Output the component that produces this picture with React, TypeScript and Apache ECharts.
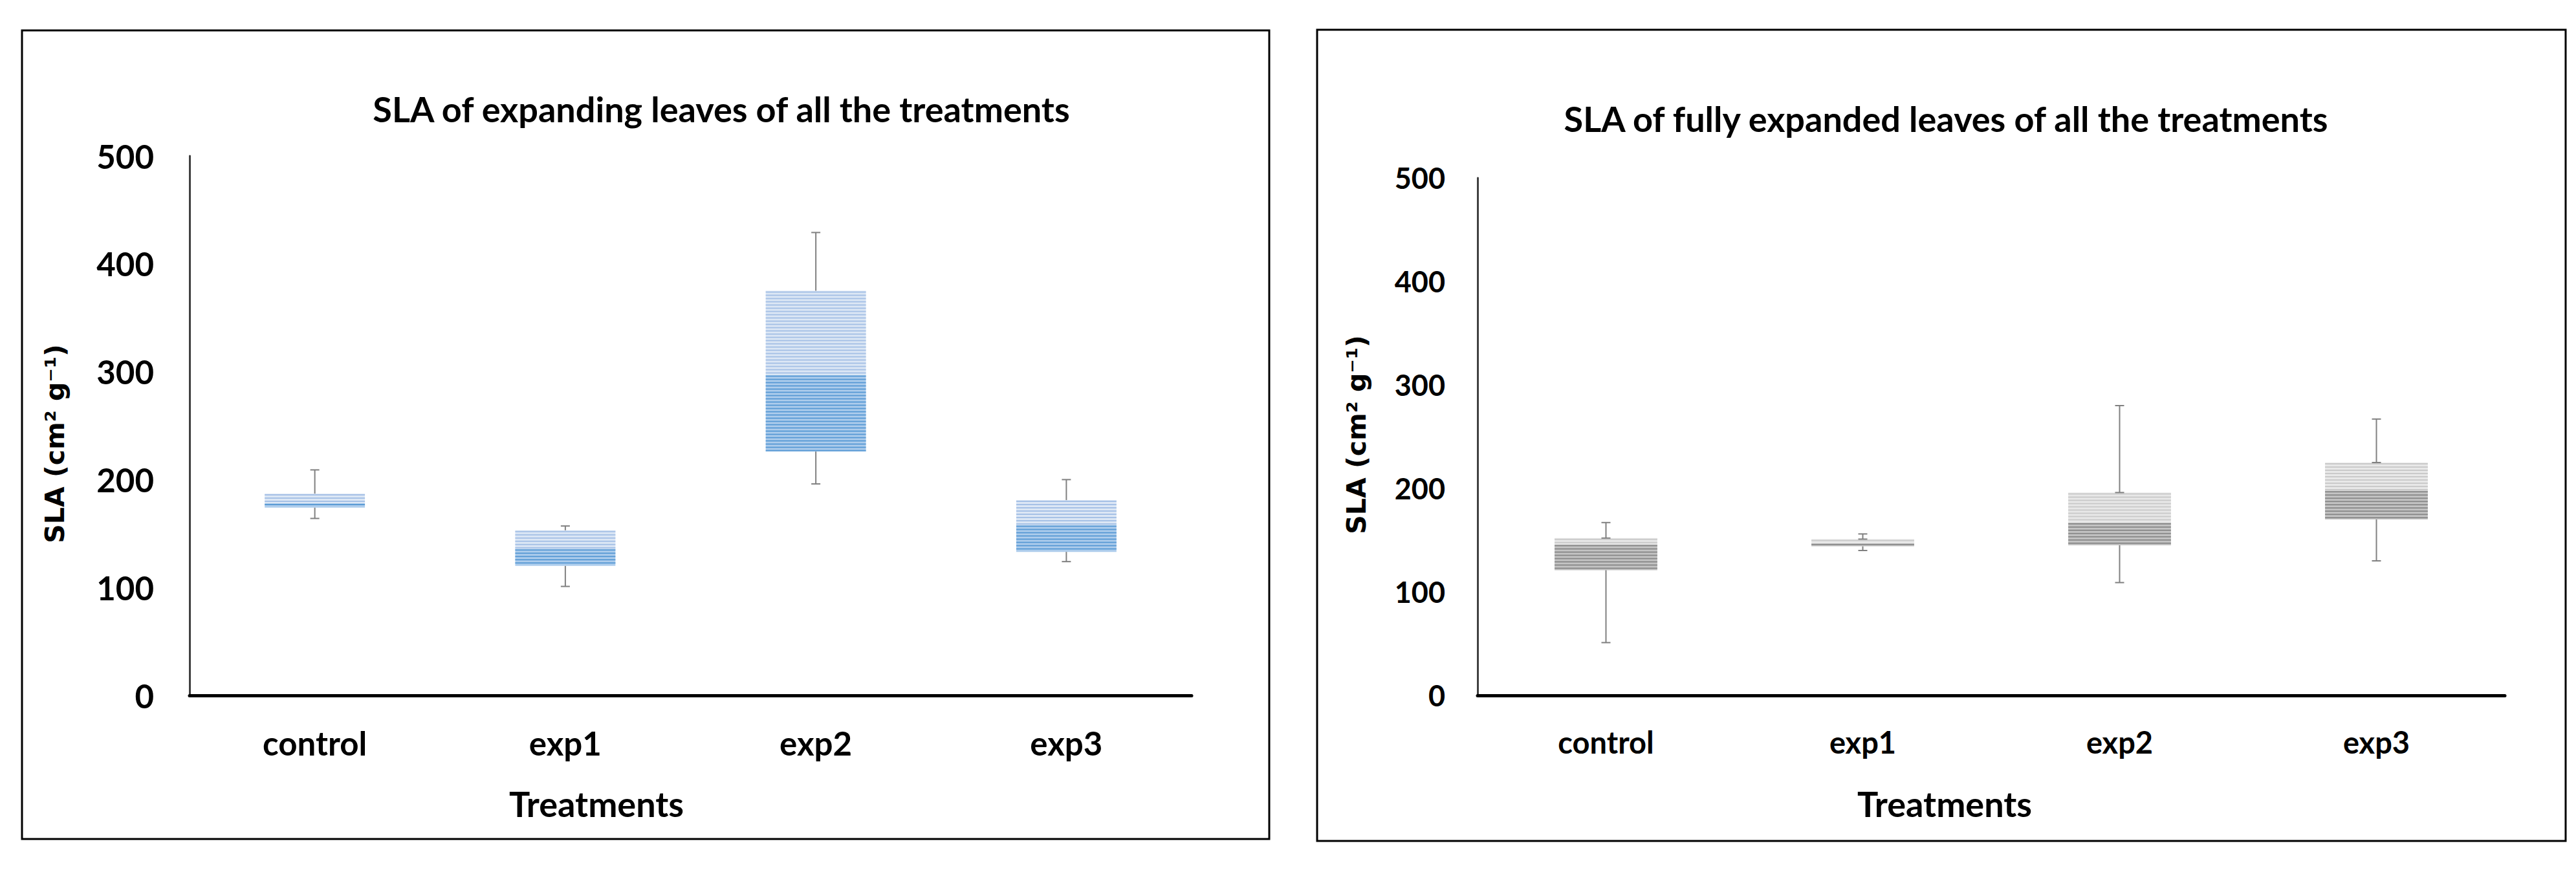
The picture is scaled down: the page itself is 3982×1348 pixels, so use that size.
import React, { useEffect, useRef } from "react";
import * as echarts from "echarts";

const categories = ["control", "exp1", "exp2", "exp3"];

// SLA of expanding leaves
const expMin = [164, 101, 196, 124];
const expQ1 = [174, 120, 226, 133];
const expMedian = [178, 136, 297, 158];
const expQ3 = [187, 153, 375, 181];
const expMax = [209, 157, 429, 200];

// SLA of fully expanded leaves
const fullMin = [51, 140, 109, 130];
const fullQ1 = [121, 144, 145, 170];
const fullMedian = [146, 147, 167, 198];
const fullQ3 = [152, 151, 196, 225];
const fullMax = [167, 156, 280, 267];

const yTicks = [0, 100, 200, 300, 400, 500];

const titleLeft = "SLA of expanding leaves of all the treatments";
const titleRight = "SLA of fully expanded leaves of all the treatments";
const xName = "Treatments";
const yName = "SLA (cm² g⁻¹)";

function buildRows(mn: number[], q1: number[], md: number[], q3: number[], mx: number[]) {
  return categories.map((_, i) => [i, mn[i], q1[i], md[i], q3[i], mx[i]]);
}

function stripedBox(x: number, yTop: number, yBot: number, w: number, base: string, stripe: string) {
  const children: any[] = [];
  const h = yBot - yTop;
  children.push({ type: "rect", shape: { x, y: yTop, width: w, height: h }, style: { fill: base } });
  for (let y = yTop + 1; y < yBot - 1; y += 5) {
    const hh = Math.min(2, yBot - y);
    children.push({ type: "rect", shape: { x, y, width: w, height: hh }, style: { fill: stripe } });
  }
  return children;
}

function makeRenderItem(
  colors: { upBase: string; upStripe: string; lowBase: string; lowStripe: string },
  capAtBoxTop: boolean
) {
  return (params: any, api: any) => {
    const i = api.value(0);
    const pMin = api.coord([i, api.value(1)]);
    const pQ1 = api.coord([i, api.value(2)]);
    const pMd = api.coord([i, api.value(3)]);
    const pQ3 = api.coord([i, api.value(4)]);
    const pMax = api.coord([i, api.value(5)]);
    const band = api.size([1, 0])[0];
    const bw = band * 0.4;
    const cx = pMd[0];
    const x0 = cx - bw / 2;
    const capW = 14;
    const wStyle = { stroke: "#808080", lineWidth: 2 };
    const children: any[] = [];
    children.push(...stripedBox(x0, pMd[1], pQ1[1], bw, colors.lowBase, colors.lowStripe));
    children.push(...stripedBox(x0, pQ3[1], pMd[1], bw, colors.upBase, colors.upStripe));
    children.push({ type: "line", shape: { x1: cx, y1: pQ3[1], x2: cx, y2: pMax[1] }, style: wStyle });
    children.push({ type: "line", shape: { x1: cx - capW / 2, y1: pMax[1], x2: cx + capW / 2, y2: pMax[1] }, style: wStyle });
    if (capAtBoxTop) {
      children.push({ type: "line", shape: { x1: cx - capW / 2, y1: pQ3[1], x2: cx + capW / 2, y2: pQ3[1] }, style: wStyle });
    }
    children.push({ type: "line", shape: { x1: cx, y1: pQ1[1], x2: cx, y2: pMin[1] }, style: wStyle });
    children.push({ type: "line", shape: { x1: cx - capW / 2, y1: pMin[1], x2: cx + capW / 2, y2: pMin[1] }, style: wStyle });
    return { type: "group", children };
  };
}

export default function App() {
  const ref = useRef<HTMLDivElement>(null);
  useEffect(() => {
    if (!ref.current) return;
    const chart = echarts.init(ref.current, null, { renderer: "svg" });
    const labelFont = "Lato";
    const mkX = (gridIndex: number, fs: number) => ({
      type: "category",
      gridIndex,
      data: categories,
      boundaryGap: true,
      axisLine: { show: true, lineStyle: { color: "#000", width: 5 } },
      axisTick: { show: false },
      axisLabel: { fontFamily: labelFont, fontWeight: "bold", fontSize: fs, color: "#000", margin: 48 },
      splitLine: { show: false },
    });
    const mkY = (gridIndex: number, fs: number, margin: number) => ({
      type: "value",
      gridIndex,
      min: yTicks[0],
      max: yTicks[yTicks.length - 1],
      interval: 100,
      axisLine: { show: true, lineStyle: { color: "#404040", width: 3 } },
      axisTick: { show: false },
      splitLine: { show: false },
      axisLabel: { fontFamily: labelFont, fontWeight: "bold", fontSize: fs, color: "#000", margin },
    });
    const txt = (text: string, x: number, y: number, fs: number, family: string, rotation = 0) => ({
      type: "text",
      x,
      y,
      rotation,
      style: {
        text,
        fontFamily: family,
        fontWeight: "bold",
        fontSize: fs,
        fill: "#000",
        align: "center",
        verticalAlign: "middle",
      },
    });
    chart.setOption({
      animation: false,
      backgroundColor: "#fff",
      grid: [
        { left: 293, top: 241, width: 1549, height: 834 },
        { left: 2284, top: 275, width: 1588, height: 800 },
      ],
      xAxis: [mkX(0, 51), mkX(1, 47)],
      yAxis: [mkY(0, 51, 55), mkY(1, 45, 50)],
      graphic: [
        { type: "rect", shape: { x: 34, y: 47, width: 1928, height: 1250 }, style: { fill: "none", stroke: "#000", lineWidth: 3 } },
        { type: "rect", shape: { x: 2036, y: 46, width: 1930, height: 1254 }, style: { fill: "none", stroke: "#000", lineWidth: 3 } },
        txt(titleLeft, 1115, 168, 54, labelFont),
        txt(titleRight, 3008, 183, 54, labelFont),
        txt(xName, 922, 1242, 54, labelFont),
        txt(xName, 3006, 1242, 54, labelFont),
        txt(yName, 85, 686, 41, "DejaVu Sans", Math.PI / 2),
        txt(yName, 2097, 672, 41, "DejaVu Sans", Math.PI / 2),
      ],
      series: [
        {
          type: "custom",
          xAxisIndex: 0,
          yAxisIndex: 0,
          data: buildRows(expMin, expQ1, expMedian, expQ3, expMax),
          renderItem: makeRenderItem({ upBase: "#dce7f5", upStripe: "#a6c1e6", lowBase: "#aecdec", lowStripe: "#5b9bd5" }, false),
          encode: { x: 0, y: [1, 2, 3, 4, 5] },
        },
        {
          type: "custom",
          xAxisIndex: 1,
          yAxisIndex: 1,
          data: buildRows(fullMin, fullQ1, fullMedian, fullQ3, fullMax),
          renderItem: makeRenderItem({ upBase: "#e8e8e8", upStripe: "#cacaca", lowBase: "#c4c4c4", lowStripe: "#8a8a8a" }, true),
          encode: { x: 0, y: [1, 2, 3, 4, 5] },
        },
      ],
    });
    return () => chart.dispose();
  }, []);
  return (
    <div
      ref={ref}
      style={{ position: "fixed", left: 0, top: 0, width: 3982, height: 1348, background: "#fff" }}
    />
  );
}
